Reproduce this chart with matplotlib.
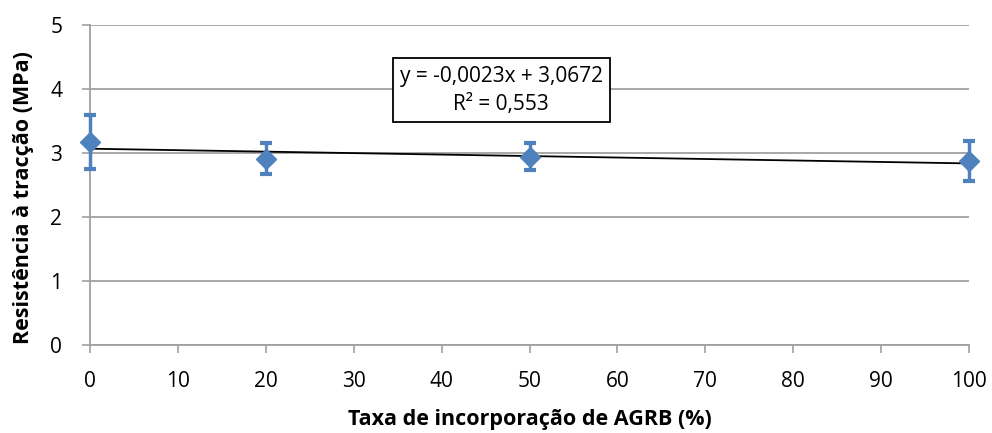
import matplotlib.pyplot as plt

plt.rcParams['font.family'] = ['Open Sans', 'DejaVu Sans']

taxa = [0, 20, 50, 100]
resist = [3.17, 2.91, 2.94, 2.875]
err_sup = [0.43, 0.25, 0.22, 0.31]
err_inf = [0.42, 0.24, 0.21, 0.32]

slope = -0.0023
intercept = 3.0672
r2 = 0.553

azul = '#4F81BD'

fig = plt.figure(figsize=(9.92, 4.33), dpi=100)
ax = fig.add_axes([90 / 992, 1 - 345 / 433, 879 / 992, 320 / 433])

ax.errorbar(taxa, resist, yerr=[err_inf, err_sup], fmt='D', color=azul,
            markersize=10, ecolor=azul, elinewidth=2.5, capsize=4.5, capthick=3,
            zorder=3, clip_on=False)
xs = [0, 100]
ax.plot(xs, [intercept + slope * x for x in xs], color='black', lw=1.3, zorder=2)

ax.set_xlim(0, 100)
ax.set_ylim(0, 5)
ax.set_xticks(range(0, 101, 10))
ax.set_yticks(range(0, 6))
ax.grid(axis='y', color='#a0a0a0', lw=1.3)
ax.set_axisbelow(True)
for s in ['top', 'right']:
    ax.spines[s].set_visible(False)
for s in ['left', 'bottom']:
    ax.spines[s].set_color('#a0a0a0')
    ax.spines[s].set_linewidth(1.3)
ax.tick_params(axis='both', colors='#a0a0a0', labelcolor='black', labelsize=15,
               length=6, width=1.2)
ax.tick_params(axis='x', pad=13)
ax.tick_params(axis='y', pad=14)

ax.set_xlabel('Taxa de incorporação de AGRB (%)', fontsize=15.5, fontweight='bold', labelpad=12)
ax.set_ylabel('Resistência à tracção (MPa)', fontsize=15.5, fontweight='bold')
ax.yaxis.set_label_coords(-0.064, 0.46)

txt = 'y = -0,0023x + 3,0672\nR² = 0,553'
ax.text(46.8, 3.98, txt, ha='center', va='center', fontsize=15, linespacing=1.45,
        bbox=dict(boxstyle='square,pad=0.35', fc='white', ec='black', lw=1.3))

fig.savefig('out.png', dpi=100)
